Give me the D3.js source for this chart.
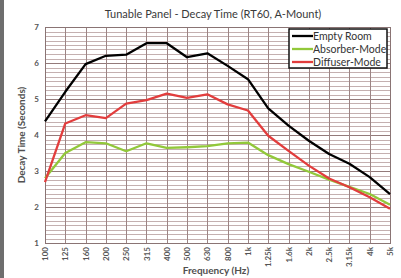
<!DOCTYPE html>
<html><head><meta charset="utf-8">
<script src="https://cdn.jsdelivr.net/npm/d3@7"></script>
<style>body{margin:0;background:#fff;}svg{display:block;}text{font-family:Lato,"Open Sans",sans-serif;}</style>
</head><body><svg id="c" width="401" height="278"></svg>
<script>
const categories = ["100","125","160","200","250","315","400","500","630","800","1k","1.25k","1.6k","2k","2.5k","3.15k","4k","5k"];
const emptyRoom = [4.38,5.2,5.97,6.2,6.23,6.55,6.55,6.16,6.27,5.92,5.55,4.74,4.26,3.84,3.47,3.2,2.83,2.36];
const absorber  = [2.8,3.5,3.8,3.77,3.55,3.77,3.64,3.66,3.69,3.77,3.79,3.44,3.19,2.98,2.76,2.56,2.36,2.06];
const diffuser  = [2.69,4.32,4.55,4.47,4.87,4.97,5.15,5.03,5.13,4.85,4.68,3.98,3.56,3.15,2.79,2.55,2.27,1.95];
const seriesNames = ["Empty Room","Absorber-Mode","Diffuser-Mode"];
const seriesColors = ["#000000","#92c83a","#e23d3d"];
const yTicks = [1,2,3,4,5,6,7];

const svg = d3.select("#c");
const L=45, R=390, T=27, B=243;
svg.append("rect").attr("x",0).attr("y",0).attr("width",4).attr("height",278).attr("fill","#6e6e6e");

const x = d3.scalePoint().domain(categories).range([L,R]);
const y = d3.scaleLinear().domain([1,7]).range([B,T]);

const g = svg.append("g");
const minor = d3.range(1,7.0001,0.125).filter(v=>Math.abs(v-Math.round(v))>1e-6);
g.selectAll(".mn").data(minor).join("line")
 .attr("x1",L).attr("x2",R).attr("y1",d=>Math.round(y(d))+0.5).attr("y2",d=>Math.round(y(d))+0.5)
 .attr("stroke","#c4b0b0").attr("stroke-width",1);
g.selectAll(".mj").data(yTicks).join("line")
 .attr("x1",L).attr("x2",R).attr("y1",d=>Math.round(y(d))+0.5).attr("y2",d=>Math.round(y(d))+0.5)
 .attr("stroke","#937a7a").attr("stroke-width",1);
g.selectAll(".vg").data(categories).join("line")
 .attr("x1",d=>Math.round(x(d))+0.5).attr("x2",d=>Math.round(x(d))+0.5).attr("y1",T).attr("y2",B)
 .attr("stroke","#9c8484").attr("stroke-width",1);
g.append("rect").attr("x",L+0.5).attr("y",T+0.5).attr("width",R-L).attr("height",B-T)
 .attr("fill","none").attr("stroke","#8a7474").attr("stroke-width",1);

const ya = svg.append("g").attr("transform",`translate(${L-6},0)`)
 .call(d3.axisLeft(y).tickValues(yTicks).tickSize(0).tickPadding(0).tickFormat(d3.format("d")));
ya.select(".domain").remove();
ya.selectAll("text").attr("font-size",8).attr("font-weight","bold").attr("fill","#555").attr("font-family","Lato,sans-serif");

const xa = svg.append("g").attr("transform",`translate(0,${B+3})`)
 .call(d3.axisBottom(x).tickSize(0).tickPadding(0));
xa.select(".domain").remove();
xa.selectAll("text").attr("font-size",8).attr("font-weight","bold").attr("fill","#555")
 .attr("font-family","Lato,sans-serif")
 .attr("transform","rotate(-90)").attr("text-anchor","end").attr("dy","0.32em").attr("x",-1).attr("y",0);

const data = [emptyRoom, absorber, diffuser];
const line = d3.line().x((d,i)=>x(categories[i])).y(d=>y(d));
data.forEach((s,k)=>{
  svg.append("path").attr("d",line(s)).attr("fill","none").attr("stroke",seriesColors[k])
   .attr("stroke-width",2.3).attr("stroke-linejoin","round");
});
svg.append("text").attr("x",213).attr("y",18).attr("text-anchor","middle").attr("font-size",11)
 .attr("fill","#3a3a3a").text("Tunable Panel - Decay Time (RT60, A-Mount)");
svg.append("text").attr("x",216).attr("y",274).attr("text-anchor","middle").attr("font-size",10)
 .attr("font-weight","bold").attr("fill","#505050").text("Frequency (Hz)");
svg.append("text").attr("transform","translate(25,135) rotate(-90)").attr("text-anchor","middle")
 .attr("font-size",10).attr("font-weight","bold").attr("fill","#505050").text("Decay Time (Seconds)");

const lg = svg.append("g");
lg.append("rect").attr("x",289).attr("y",29).attr("width",98).attr("height",39)
 .attr("fill","#fff").attr("stroke","#111").attr("stroke-width",1.5);
seriesNames.forEach((n,k)=>{
  const yy = 36 + k*13;
  lg.append("line").attr("x1",292).attr("x2",313).attr("y1",yy).attr("y2",yy)
   .attr("stroke",seriesColors[k]).attr("stroke-width",2.3);
  lg.append("text").attr("x",313).attr("y",yy).attr("dy","0.35em").attr("font-size",10.5)
   .attr("fill","#333").text(n);
});
</script></body></html>
